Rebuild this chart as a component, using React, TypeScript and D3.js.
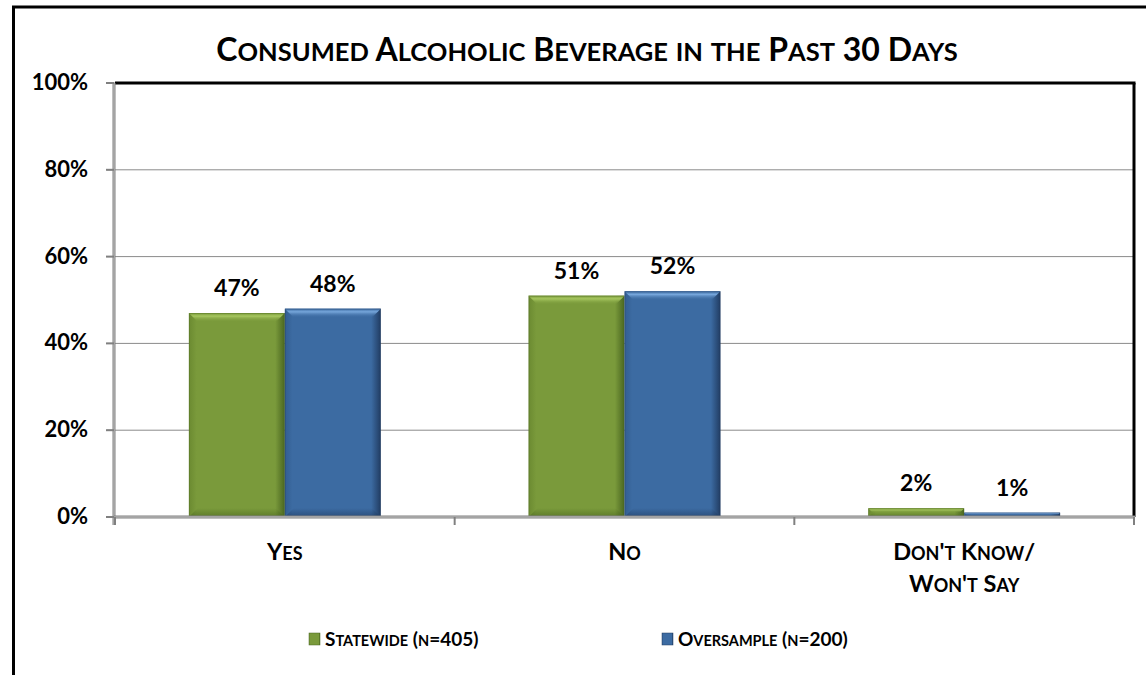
import React from "react";
import * as d3 from "d3";

const title = "Consumed Alcoholic Beverage in the Past 30 Days";
const categories = ["Yes", "No", "Don't Know/|Won't Say"];
const seriesNames = ["Statewide (n=405)", "Oversample (n=200)"];
const statewide = [47, 51, 2];
const oversample = [48, 52, 1];
const yTicks = [0, 20, 40, 60, 80, 100];

const W = 1146;
const H = 675;
const FONT = "Lato, 'Liberation Sans', sans-serif";

function smallCapsRuns(text: string, big: number, small: number) {
  const runs: { t: string; s: number }[] = [];
  for (const ch of text) {
    const isLower = ch !== ch.toUpperCase();
    const s = isLower ? small : big;
    const t = ch.toUpperCase();
    if (runs.length && runs[runs.length - 1].s === s) runs[runs.length - 1].t += t;
    else runs.push({ t, s });
  }
  return runs;
}

function SC(props: { text: string; x: number; y: number; big: number; small: number; anchor?: string }) {
  const runs = smallCapsRuns(props.text, props.big, props.small);
  return (
    <text x={props.x} y={props.y} textAnchor={props.anchor || "middle"} fontFamily={FONT} fontWeight="bold" fill="#000">
      {runs.map((r, i) => (
        <tspan key={i} fontSize={r.s}>
          {r.t}
        </tspan>
      ))}
    </text>
  );
}

export default function App() {
  const left = 115;
  const right = 1134;
  const top = 83;
  const bottom = 517;

  const x = d3
    .scaleBand<number>()
    .domain(categories.map((_, i) => i))
    .range([left, right])
    .paddingInner(0.435)
    .paddingOuter(0.2175);
  const xs = d3.scaleBand<number>().domain([0, 1]).range([0, x.bandwidth()]).padding(0);
  const y = d3.scaleLinear().domain([0, 100]).range([bottom, top]);
  const step = x.step();
  const series = [statewide, oversample];

  const pal = [
    { base: "#7a9a3b", light: "#a6c65f", dark: "#4a6620", edge: "#6b8a31" },
    { base: "#3c6ba2", light: "#76a6db", dark: "#213c62", edge: "#335e91" },
  ];

  return (
    <svg width={W} height={H} style={{ position: "absolute", left: 0, top: 0, background: "#fff" }}>
      <defs>
        {pal.map((p, i) => (
          <React.Fragment key={i}>
            <linearGradient id={`h${i}`} x1="0" x2="1" y1="0" y2="0">
              <stop offset="0" stopColor={p.edge} />
              <stop offset="0.08" stopColor={p.base} />
              <stop offset="0.9" stopColor={p.base} />
              <stop offset="1" stopColor={p.dark} />
            </linearGradient>
            <linearGradient id={`t${i}`} x1="0" x2="0" y1="0" y2="1">
              <stop offset="0" stopColor={p.base} />
              <stop offset="0.35" stopColor={p.light} />
              <stop offset="1" stopColor={p.base} stopOpacity="0" />
            </linearGradient>
            <linearGradient id={`b${i}`} x1="0" x2="0" y1="0" y2="1">
              <stop offset="0" stopColor={p.dark} stopOpacity="0" />
              <stop offset="1" stopColor={p.dark} />
            </linearGradient>
          </React.Fragment>
        ))}
      </defs>

      {/* outer frame */}
      <rect x={13.5} y={7} width={W + 20} height={H + 20} fill="none" stroke="#000" strokeWidth={3} />

      {/* title */}
      <SC text={title} x={587} y={61} big={32} small={25.5} />

      {/* gridlines */}
      {yTicks.map((t) => (
        <line key={t} x1={left - 8} x2={right} y1={y(t)} y2={y(t)} stroke="#8a8a8a" strokeWidth={1} />
      ))}

      {/* bars */}
      {series.map((vals, si) =>
        vals.map((v, ci) => {
          const bx = (x(ci) as number) + (xs(si) as number);
          const bw = xs.bandwidth();
          const by = y(v);
          const bh = bottom - by;
          const bev = Math.min(9, bh / 2);
          return (
            <g key={`${si}-${ci}`}>
              <rect x={bx} y={by} width={bw} height={bh} fill={`url(#h${si})`} />
              <path
                d={`M${bx},${by}L${bx + bw},${by}L${bx + bw - bev},${by + bev}L${bx + bev},${by + bev}Z`}
                fill={`url(#t${si})`}
              />
              <path
                d={`M${bx},${bottom}L${bx + bw},${bottom}L${bx + bw - bev},${bottom - bev}L${bx + bev},${bottom - bev}Z`}
                fill={`url(#b${si})`}
                opacity={0.6}
              />
              <rect x={bx + 0.5} y={by + 0.5} width={bw - 1} height={bh - 1} fill="none" stroke={pal[si].dark} strokeOpacity={0.35} />
            </g>
          );
        })
      )}

      {/* data labels */}
      {series.map((vals, si) =>
        vals.map((v, ci) => (
          <text
            key={`l${si}-${ci}`}
            x={(x(ci) as number) + (xs(si) as number) + xs.bandwidth() / 2}
            y={y(v) - 17}
            textAnchor="middle"
            fontFamily={FONT}
            fontWeight="bold"
            fontSize={23}
          >
            {v}%
          </text>
        ))
      )}

      {/* plot border top & right */}
      <line x1={left} x2={right + 1.5} y1={top} y2={top} stroke="#000" strokeWidth={3} />
      <line x1={right} x2={right} y1={top} y2={bottom} stroke="#000" strokeWidth={3} />

      {/* axes */}
      <line x1={left - 1} x2={left - 1} y1={top} y2={bottom + 8} stroke="#808080" strokeWidth={3} />
      <line x1={left - 1} x2={left - 1} y1={top} y2={bottom + 8} stroke="#c8c8c8" strokeWidth={1} />
      <line x1={left - 1} x2={right + 1} y1={bottom} y2={bottom} stroke="#808080" strokeWidth={3} />
      <line x1={left - 1} x2={right + 1} y1={bottom} y2={bottom} stroke="#c8c8c8" strokeWidth={1} />
      {yTicks.map((t) => (
        <line key={`yt${t}`} x1={left - 9} x2={left - 1} y1={y(t)} y2={y(t)} stroke="#808080" strokeWidth={2} />
      ))}
      {d3.range(categories.length + 1).map((i) => {
        const tx = left + i * step;
        return <line key={`xt${i}`} x1={tx} x2={tx} y1={bottom} y2={bottom + 8} stroke="#808080" strokeWidth={2} />;
      })}

      {/* y labels */}
      {yTicks.map((t) => (
        <text key={`yl${t}`} x={88} y={y(t) + 7} textAnchor="end" fontFamily={FONT} fontWeight="bold" fontSize={22}>
          {t}%
        </text>
      ))}

      {/* x labels */}
      {categories.map((c, i) => {
        const cx = (x(i) as number) + x.bandwidth() / 2;
        return c.split("|").map((line, li) => (
          <SC key={`xl${i}-${li}`} text={line} x={cx} y={560 + li * 32} big={23.5} small={18} />
        ));
      })}

      {/* legend */}
      {seriesNames.map((n, i) => {
        const lx = [309, 662][i];
        return (
          <g key={`lg${i}`}>
            <rect x={lx} y={633} width={11} height={12} fill={`url(#h${i})`} stroke={pal[i].dark} strokeWidth={0.5} />
            <SC text={n} x={lx + 16} y={646} big={19} small={14.5} anchor="start" />
          </g>
        );
      })}
    </svg>
  );
}
